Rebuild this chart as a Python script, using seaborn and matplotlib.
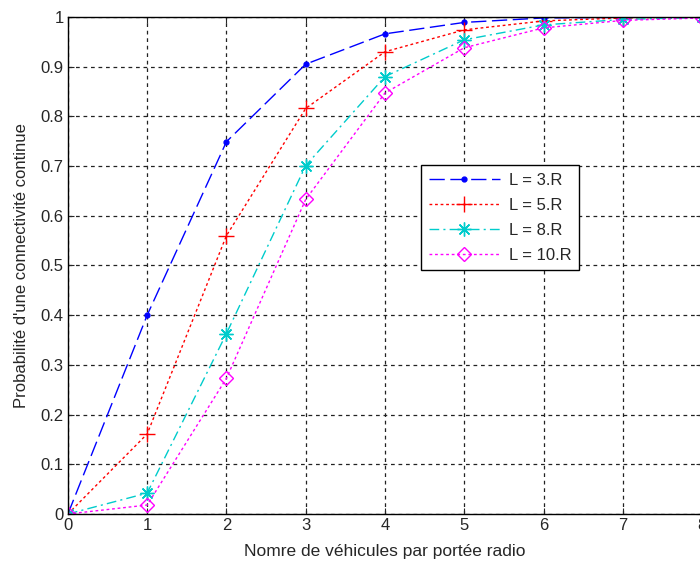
import numpy as np
import pandas as pd
import matplotlib
matplotlib.use("Agg")
import matplotlib.pyplot as plt
import seaborn as sns

# vehicles per radio range (x) and probability of continuous connectivity per L
x_vals = [0, 1, 2, 3, 4, 5, 6, 7, 8]
p_l3 = [0.0, 0.40, 0.749, 0.905, 0.966, 0.989, 0.998, 0.999, 1.0]
p_l5 = [0.0, 0.161, 0.56, 0.816, 0.930, 0.974, 0.992, 0.998, 1.0]
p_l8 = [0.0, 0.042, 0.363, 0.701, 0.880, 0.954, 0.984, 0.995, 0.999]
p_l10 = [0.0, 0.018, 0.273, 0.633, 0.847, 0.938, 0.978, 0.993, 0.998]
labels = ["L = 3.R", "L = 5.R", "L = 8.R", "L = 10.R"]

df = pd.DataFrame({"x": x_vals * 4,
                   "p": p_l3 + p_l5 + p_l8 + p_l10,
                   "serie": np.repeat(labels, len(x_vals))})

sns.set_style("ticks")
plt.rcParams["font.family"] = ["Liberation Sans", "DejaVu Sans"]
plt.rcParams["font.size"] = 12

fig = plt.figure(figsize=(7, 5.61), dpi=100)
ax = fig.add_axes([0.097, 0.0838, 0.906, 0.886])

# colour, linestyle, marker, marker size, marker face
styles = {
    "L = 3.R": ("#0000ff", (0, (11, 4)), "o", 3.5, "#0000ff"),
    "L = 5.R": ("#ff0000", (0, (2, 2)), "+", 11, "#ff0000"),
    "L = 8.R": ("#00cccc", (0, (7, 3, 1.5, 3)), (8, 2, 0), 10, "#00cccc"),
    "L = 10.R": ("#ff00ff", (0, (2, 2)), "D", 7, "none"),
}

for lab in labels:
    col, ls, mk, ms, mfc = styles[lab]
    sub = df[df.serie == lab]
    sns.lineplot(data=sub, x="x", y="p", ax=ax, color=col, linestyle=ls,
                 marker=mk, markersize=ms, markerfacecolor=mfc,
                 markeredgecolor=col, markeredgewidth=1.0, linewidth=1.0,
                 label=lab)

ax.set_xlim(0, 8)
ax.set_ylim(0, 1)
ax.set_xticks(range(0, 9))
ax.set_yticks(np.round(np.arange(0, 1.01, 0.1), 1))
ax.set_yticklabels(["0", "0.1", "0.2", "0.3", "0.4", "0.5", "0.6", "0.7", "0.8", "0.9", "1"])
ax.grid(True, color="#222222", linestyle=(0, (3, 3)), linewidth=0.9)
ax.tick_params(direction="in", top=True, right=True, length=4, labelsize=12, pad=3)
for s in ax.spines.values():
    s.set_color("black")
    s.set_linewidth(1.0)

ax.set_xlabel("Nomre de véhicules par portée radio", fontsize=12.5, labelpad=8)
ax.set_ylabel("Probabilité d'une connectivité continue", fontsize=12, labelpad=8)

leg = ax.legend(loc="upper left", bbox_to_anchor=(0.557, 0.702), fontsize=12,
                handlelength=4.3, handletextpad=0.5, fancybox=False,
                framealpha=1, edgecolor="black", borderpad=0.45,
                labelspacing=0.6, borderaxespad=0)
leg.get_frame().set_linewidth(1.0)

fig.savefig("out.png", dpi=100, facecolor="white")
